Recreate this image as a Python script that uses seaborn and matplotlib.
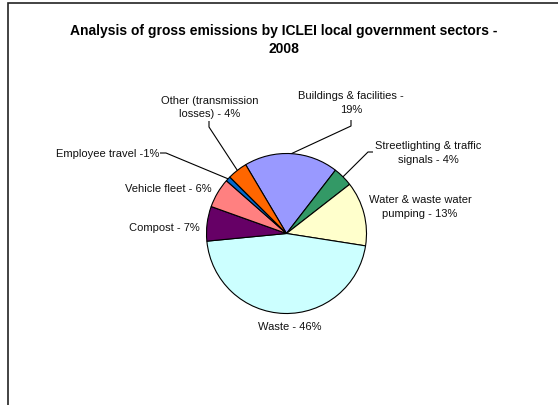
import numpy as np
import matplotlib
matplotlib.use("Agg")
import matplotlib.pyplot as plt
import seaborn as sns

sns.set_theme(style="white")
plt.rcParams['font.family'] = ['Liberation Sans', 'DejaVu Sans']

# ---- data (clockwise from the top-left boundary of "Buildings") ----
sectors = ["Buildings & facilities", "Streetlighting & traffic signals",
           "Water & waste water pumping", "Waste", "Compost",
           "Vehicle fleet", "Employee travel", "Other (transmission losses)"]
shares = [19, 4, 13, 46, 7, 6, 1, 4]
labels = ["Buildings & facilities -\n19%", "Streetlighting & traffic\nsignals - 4%",
          "Water & waste water\npumping - 13%", "Waste - 46%", "Compost - 7%",
          "Vehicle fleet - 6%", "Employee travel -1%", "Other (transmission\nlosses) - 4%"]
colors = ["#9999FF", "#339966", "#FFFFCC", "#CCFFFF", "#660066",
          "#FF8080", "#0066CC", "#FF6600"]
title = "Analysis of gross emissions by ICLEI local government sectors -\n2008"

W, H = 558, 406
fig = plt.figure(figsize=(W / 100, H / 100), dpi=100)
ax = fig.add_axes([0, 0, 1, 1])

def Y(y):
    return H - y

cx, cy, r = 286.5, Y(234.5), 80
wedges, _ = ax.pie(shares, colors=colors, startangle=120.7, counterclock=False,
                   center=(cx, cy), radius=r, frame=True,
                   wedgeprops=dict(edgecolor="black", linewidth=0.8))
ax.set_xlim(0, W)
ax.set_ylim(0, H)
ax.set_aspect('equal')
ax.axis('off')

# label layout: (x, y, ha, leader polyline start points or None)
layout = {
    0: dict(xy=(351, 103), ha='center', lead=[(351, 121), (351, 127)]),
    1: dict(xy=(428, 153), ha='center', lead=[(373, 153), (368, 153)]),
    2: dict(xy=(420, 207), ha='center', lead=None),
    3: dict(xy=(290, 327), ha='center', lead=None),
    4: dict(xy=(200, 228), ha='right', lead=None),
    5: dict(xy=(212, 189), ha='right', lead=None),
    6: dict(xy=(159, 154), ha='right', lead=[(160, 154), (166, 154)]),
    7: dict(xy=(210, 107.5), ha='center', lead=[(209, 122), (209, 128)]),
}

for i, w in enumerate(wedges):
    L = layout[i]
    ax.text(L['xy'][0], Y(L['xy'][1]), labels[i], ha=L['ha'], va='center',
            fontsize=8, linespacing=1.45, color="#111111", multialignment='center')
    if L['lead'] is not None:
        mid = np.deg2rad((w.theta1 + w.theta2) / 2)
        ex, ey = cx + r * np.cos(mid), cy + r * np.sin(mid)
        pts = [(p[0], Y(p[1])) for p in L['lead']] + [(ex, ey)]
        xs, ys = zip(*pts)
        ax.plot(xs, ys, color="black", linewidth=0.8, solid_capstyle='butt')

ax.text(284, Y(40), title, ha='center', va='center', fontsize=10, fontweight='bold',
        linespacing=1.3, color="black")

# chart frame (left and top edges visible in the crop)
ax.plot([7.5, 7.5, W], [0, Y(4), Y(4)], color="#222222", linewidth=1.2,
        solid_joinstyle='miter')

fig.savefig("out.png", dpi=100)
